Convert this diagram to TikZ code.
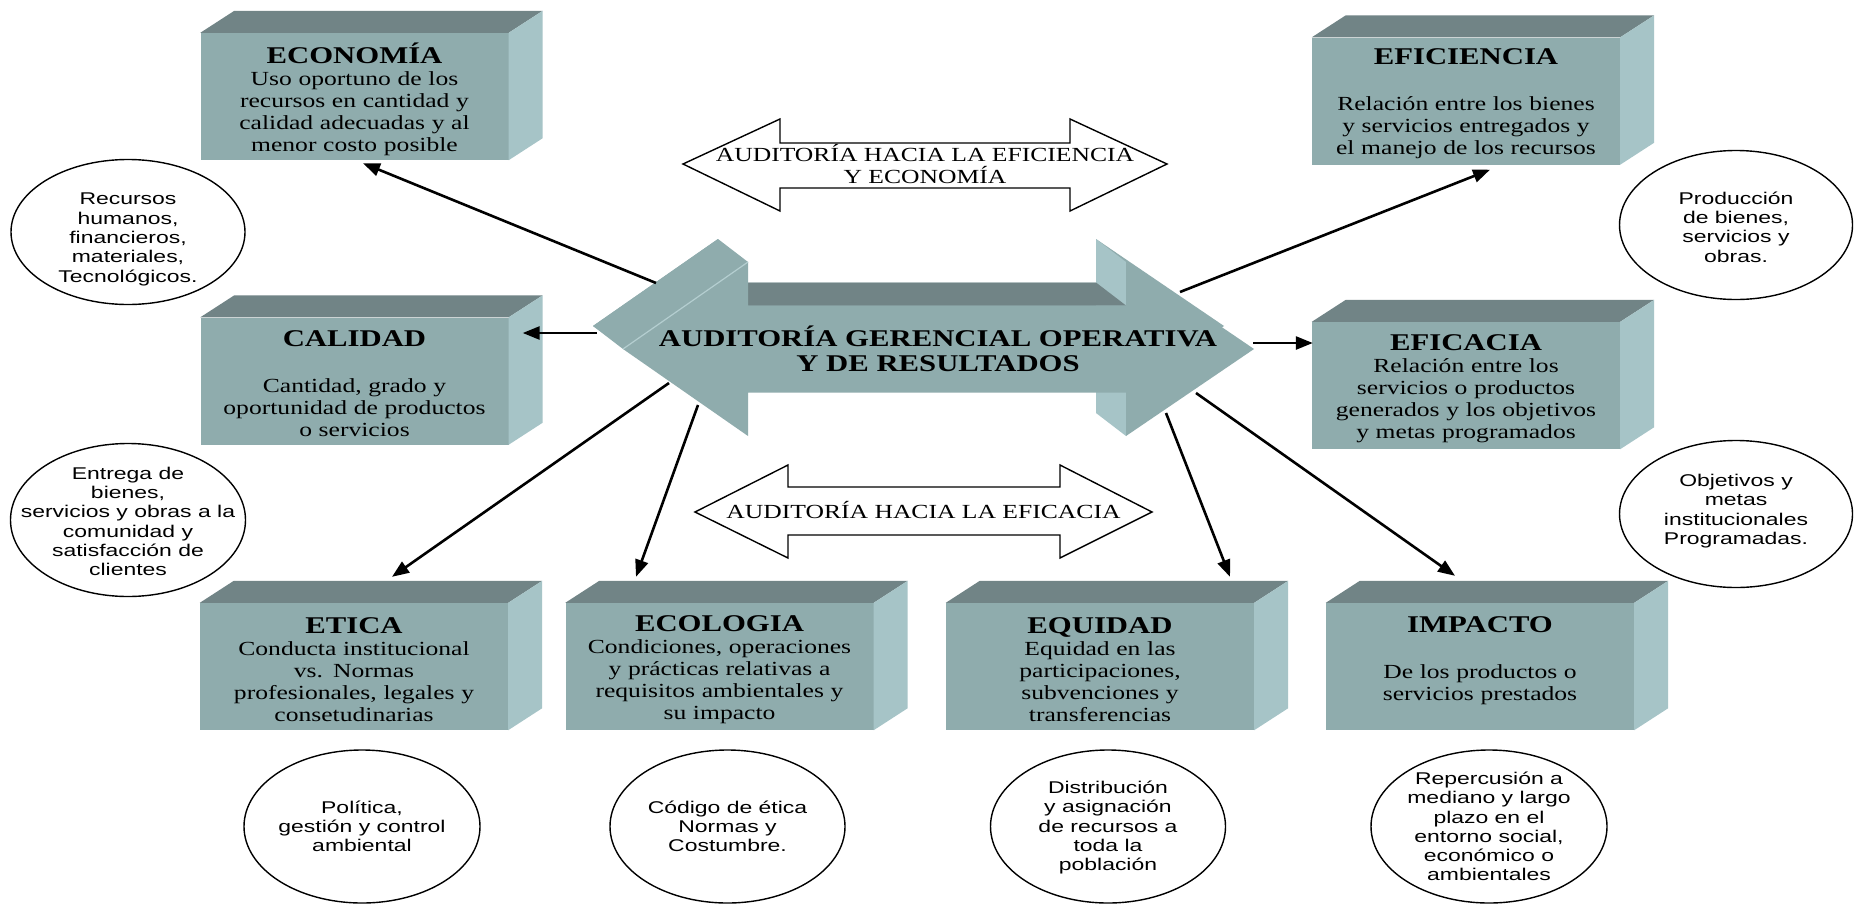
\documentclass[tikz,border=0pt]{standalone}
\usepackage{fontspec}
\usetikzlibrary{arrows.meta,shapes.geometric,calc}
\newfontfamily\boxfont{Liberation Serif}[FakeStretch=1.28]
\newfontfamily\notefont{Liberation Sans}[FakeStretch=1.35]
\definecolor{faceC}{RGB}{143,172,173}
\definecolor{topC}{RGB}{113,132,134}
\definecolor{sideC}{RGB}{166,196,199}
\definecolor{edgeC}{RGB}{180,206,208}
\newcommand\ttl[1]{{\fontsize{24}{24}\selectfont\bfseries #1}}
% outline of the central double arrow (rear face)
\def\coreshape{(593,326) -- (718,239) -- (718,282.5) -- (1096,282.5) -- (1096,239) -- (1224,326) -- (1096,413) -- (1096,369.5) -- (718,369.5) -- (718,413) -- cycle}
\begin{document}
\begin{tikzpicture}[x=1pt,y=-1pt,
  card/.style={fill=faceC, minimum width=308pt, minimum height=127pt, inner sep=0pt},
  cardtext/.style={text width=308pt, inner sep=0pt, align=center,
    font=\boxfont\fontsize{20}{22}\selectfont},
  ring/.style={ellipse, draw, line width=1.4pt, inner sep=0pt},
  notetext/.style={align=center, inner sep=0pt, font=\notefont\fontsize{17}{19.3}\selectfont},
  link/.style={line width=2.6pt, -{Triangle[length=17pt,width=13pt]}},
  banner/.style={draw, line width=1.4pt, fill=white},
  bannertext/.style={align=center, inner sep=0pt, font=\boxfont\fontsize{20}{21.5}\selectfont}]
\useasboundingbox (0,0) rectangle (1854,905);
\fill[white] (0,0) rectangle (1854,905);

% ---- central 3D double arrow ----
\fill[faceC] \coreshape;
\fill[sideC] (1096,239) -- (1126,262) -- (1126,436) -- (1096,413) -- cycle;
\fill[topC] (718,282.5) -- (1096,282.5) -- (1126,305.5) -- (748,305.5) -- cycle;
\fill[faceC] (593,326) -- (718,239) -- (748,262) -- (623,349) -- cycle;
\fill[faceC, shift={(30,23)}] \coreshape;
\draw[edgeC, line width=1.2pt] (623,349) -- (748,262);
\node[font=\boxfont\bfseries\fontsize{24}{25}\selectfont, align=center, inner sep=0pt] (core) at (938,349)
  {AUDITORÍA GERENCIAL OPERATIVA\\Y DE RESULTADOS};

% ---- outlined banners ----
\draw[banner] (683,164) -- (780,119) -- (780,143) -- (1070,143) -- (1070,119) -- (1167,164)
  -- (1070,211) -- (1070,188) -- (780,188) -- (780,211) -- cycle;
\node[bannertext] (effecon) at (925,164) {AUDITORÍA HACIA LA EFICIENCIA\\Y ECONOMÍA};
\draw[banner] (695,512) -- (788,465) -- (788,487) -- (1060,487) -- (1060,465) -- (1152,512)
  -- (1060,558) -- (1060,535) -- (788,535) -- (788,558) -- cycle;
\node[bannertext] (effic) at (923.5,510) {AUDITORÍA HACIA LA EFICACIA};

% ---- prisms: front faces ----
\node[card] (eco) at (354.5,96.5) {};
\node[card] (efi) at (1466,101) {};
\node[card] (cal) at (354.5,381) {};
\node[card] (efa) at (1466,385.5) {};
\node[card] (eti) at (354,666.5) {};
\node[card] (ecl) at (719.5,666.5) {};
\node[card] (equ) at (1100,666.5) {};
\node[card] (imp) at (1480,666.5) {};
% top and side faces
\foreach \b in {eco,efi,cal,efa,eti,ecl,equ,imp}{
  \fill[topC] (\b.north west) -- ++(34,-22) -- ([shift={(34,-22)}]\b.north east) -- (\b.north east) -- cycle;
  \fill[sideC] (\b.north east) -- ++(34,-22) -- ([shift={(34,-22)}]\b.south east) -- (\b.south east) -- cycle;
}
% prism labels
\node[cardtext] (ecoT) at ([yshift=-3pt]eco.center) {\ttl{ECONOMÍA}\\Uso oportuno de los\\recursos en cantidad y\\calidad adecuadas y al\\menor costo posible};
\node[cardtext] (efiT) at ([yshift=-3pt]efi.center) {\ttl{EFICIENCIA}\\[24pt]Relación entre los bienes\\y servicios entregados y\\el manejo de los recursos};
\node[cardtext] (calT) at ([yshift=-3pt]cal.center) {\ttl{CALIDAD}\\[24pt]Cantidad, grado y\\oportunidad de productos\\o servicios};
\node[cardtext] (efaT) at ([yshift=-3pt]efa.center) {\ttl{EFICACIA}\\Relación entre los\\servicios o productos\\generados y los objetivos\\y metas programados};
\node[cardtext] (etiT) at ([yshift=-3pt]eti.center) {\ttl{ETICA}\\Conducta institucional\\vs. Normas\\profesionales, legales y\\consetudinarias};
\node[cardtext] (eclT) at ([yshift=-3pt]ecl.center) {\ttl{ECOLOGIA}\\Condiciones, operaciones\\y prácticas relativas a\\requisitos ambientales y\\su impacto};
\node[cardtext] (equT) at ([yshift=-3pt]equ.center) {\ttl{EQUIDAD}\\Equidad en las\\participaciones,\\subvenciones y\\transferencias};
\node[cardtext] (impT) at ([yshift=-3pt]imp.center) {\ttl{IMPACTO}\\[24pt]De los productos o\\servicios prestados\\\mbox{}};

% ---- ellipses ----
\node[ring, minimum width=234pt, minimum height=145pt] (r1) at (128,232) {};
\node[notetext] (t1) at (128,239.5) {Recursos\\humanos,\\financieros,\\materiales,\\Tecnológicos.};
\node[ring, minimum width=233pt, minimum height=149pt] (r2) at (1736,225) {};
\node[notetext] (t2) at (1736,227) {Producción\\de bienes,\\servicios y\\obras.};
\node[ring, minimum width=235pt, minimum height=153pt] (r3) at (128,520) {};
\node[notetext] (t3) at (128,521.5) {Entrega de\\bienes,\\servicios y obras a la\\comunidad y\\satisfacción de\\clientes};
\node[ring, minimum width=233pt, minimum height=147pt] (r4) at (1736,514) {};
\node[notetext] (t4) at (1736,511) {Objetivos y\\metas\\institucionales\\Programadas.};
\node[ring, minimum width=236pt, minimum height=153pt] (r5) at (362,826.5) {};
\node[notetext] (t5) at (362,826.5) {Política,\\gestión y control\\ambiental};
\node[ring, minimum width=235pt, minimum height=153pt] (r6) at (727.5,826.5) {};
\node[notetext] (t6) at (727.5,826.5) {Código de ética\\Normas y\\Costumbre.};
\node[ring, minimum width=235pt, minimum height=153pt] (r7) at (1108,826.5) {};
\node[notetext] (t7) at (1108,827.5) {Distribución\\y asignación\\de recursos a\\toda la\\población};
\node[ring, minimum width=236pt, minimum height=153pt] (r8) at (1489,826.5) {};
\node[notetext] (t8) at (1489,826.5) {Repercusión a\\mediano y largo\\plazo en el\\entorno social,\\económico o\\ambientales};

% ---- connectors from the central arrow ----
\coordinate (sEco) at (656,283);
\coordinate (sCal) at (597,333);
\coordinate (sEti) at (669,383);
\coordinate (sEcl) at (698,405);
\coordinate (sEqu) at (1166,413);
\coordinate (sImp) at (1196,393);
\coordinate (sEfa) at (1253,343);
\coordinate (sEfi) at (1180,292);
\draw[link] (sEco) -- ([shift={(8.5,3)}]eco.south);
\draw[link] (sCal) -- ([shift={(14,-48)}]cal.east);
\draw[link] (sEti) -- ([shift={(38,-26)}]eti.north);
\draw[link] (sEcl) -- ([shift={(-83.5,-26)}]ecl.north);
\draw[link] (sEqu) -- ([shift={(130,-26)}]equ.north);
\draw[link] (sImp) -- ([shift={(-25,-27)}]imp.north);
\draw[link] (sEfa) -- ([shift={(1,-42.5)}]efa.west);
\draw[link] (sEfi) -- ([shift={(24,5)}]efi.south);
\end{tikzpicture}
\end{document}
